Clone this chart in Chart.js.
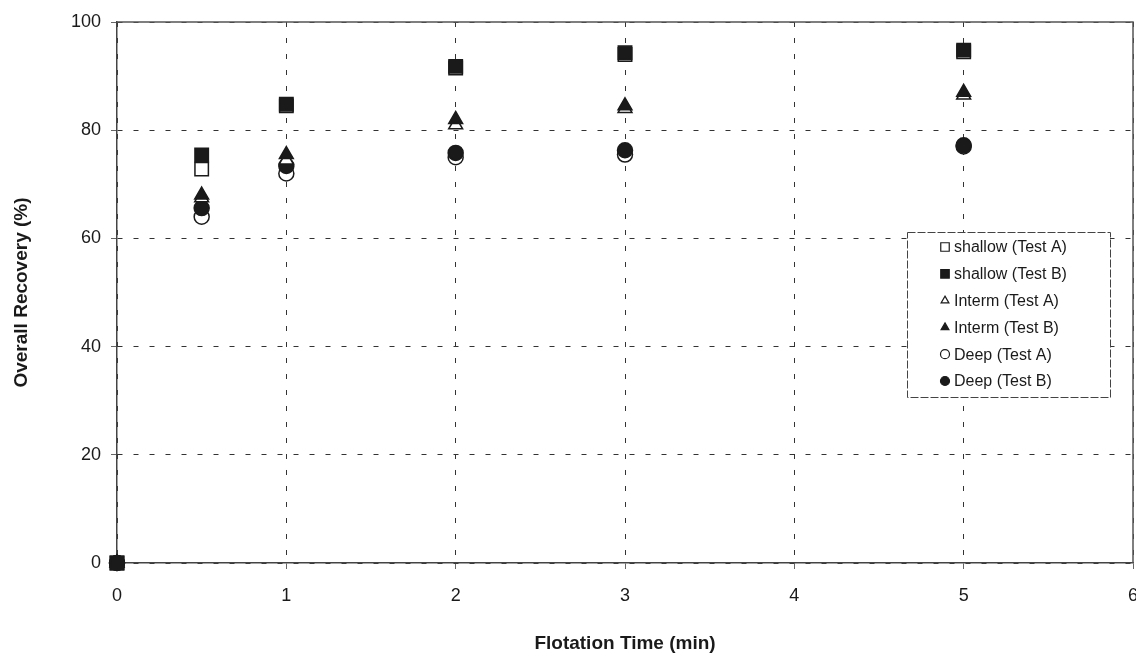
<!DOCTYPE html>
<html>
<head>
<meta charset="utf-8">
<script src="https://cdn.jsdelivr.net/npm/chart.js@4"></script>
<style>
  html, body { margin: 0; padding: 0; background: #fff; overflow: hidden; }
  #wrap { width: 1136px; height: 656px; overflow: hidden; }
</style>
</head>
<body>
<div id="wrap"><canvas id="myChart" width="1144" height="656"></canvas></div>
<script>
// flotation time (min)
const times = [0, 0.5, 1, 2, 3, 5];

// overall recovery (%)
const shallowA = [0, 72.8, 84.5, 91.5, 94, 94.5];
const shallowB = [0, 75.4, 84.8, 91.8, 94.3, 94.8];
const intermA = [0, 67.5, 74.5, 81, 84, 86.5];
const intermB = [0, 68, 75.5, 82, 84.5, 87];
const deepA = [0, 64, 72, 75, 75.5, 77];
const deepB = [0, 65.6, 73.4, 75.8, 76.3, 77.2];

const xTicks = [0, 1, 2, 3, 4, 5, 6];
const yTicks = [0, 20, 40, 60, 80, 100];

const FONT = "'Liberation Sans', Arial, sans-serif";

function pts(vals) {
  return times.map((t, i) => ({ x: t, y: vals[i] }));
}

function series(label, vals, style, filled, radius, order) {
  return {
    label: label,
    data: pts(vals),
    pointStyle: style,
    pointRadius: radius,
    pointHoverRadius: radius,
    pointBackgroundColor: filled ? '#1a1a1a' : '#ffffff',
    pointBorderColor: '#1a1a1a',
    pointBorderWidth: 1.5,
    showLine: false,
    clip: false,
    order: order
  };
}

const datasets = [
  series('shallow (Test A)', shallowA, 'rect', false, 9.5, 1),
  series('shallow (Test B)', shallowB, 'rect', true, 9.5, 0),
  series('Interm (Test A)', intermA, 'triangle', false, 8, 3),
  series('Interm (Test B)', intermB, 'triangle', true, 8, 2),
  series('Deep (Test A)', deepA, 'circle', false, 7.5, 5),
  series('Deep (Test B)', deepB, 'circle', true, 7.5, 4)
];

// solid frame on top and right of the plot area
const framePlugin = {
  id: 'frame',
  beforeDatasetsDraw(chart) {
    const { ctx, chartArea: a } = chart;
    ctx.save();
    ctx.strokeStyle = '#555';
    ctx.lineWidth = 1.5;
    ctx.beginPath();
    ctx.moveTo(a.left, a.top);
    ctx.lineTo(a.right, a.top);
    ctx.lineTo(a.right, a.bottom);
    ctx.stroke();
    ctx.restore();
  }
};

// boxed legend inside the plot, like the original
const boxLegend = {
  id: 'boxLegend',
  afterDraw(chart) {
    const { ctx, chartArea: a } = chart;
    const left = a.right - 226;
    const top = 232;
    const w = 203, h = 165;
    ctx.save();
    ctx.fillStyle = '#fff';
    ctx.fillRect(left, top, w, h);
    ctx.strokeStyle = '#444';
    ctx.lineWidth = 1;
    ctx.setLineDash([8, 2]);
    ctx.strokeRect(left + 0.5, top + 0.5, w, h);
    ctx.setLineDash([]);
    ctx.font = '16px ' + FONT;
    ctx.textBaseline = 'middle';
    chart.data.datasets.forEach((ds, i) => {
      const y = top + 15 + i * 26.8;
      ctx.fillStyle = ds.pointBackgroundColor;
      ctx.strokeStyle = ds.pointBorderColor;
      ctx.lineWidth = 1.2;
      Chart.helpers.drawPoint(ctx, { pointStyle: ds.pointStyle, radius: ds.pointStyle === 'rect' ? 6 : 4.5, borderWidth: 1.2 }, left + 38, y);
      ctx.fillStyle = '#1a1a1a';
      ctx.fillText(ds.label, left + 47, y + 1);
    });
    ctx.restore();
  }
};

const ctx = document.getElementById('myChart').getContext('2d');
const myChart = new Chart(ctx, {
  type: 'scatter',
  data: { datasets: datasets },
  options: {
    responsive: false,
    animation: false,
    layout: { padding: { top: 22, right: 3, left: 0, bottom: 0 } },
    plugins: {
      legend: { display: false },
      tooltip: { enabled: false }
    },
    scales: {
      x: {
        type: 'linear',
        min: 0,
        max: 6,
        afterBuildTicks: (s) => { s.ticks = xTicks.map(v => ({ value: v })); },
        afterFit: (s) => { s.height = 93; s.paddingRight = 0; s.paddingLeft = 0; },
        ticks: { color: '#1a1a1a', font: { family: FONT, size: 18 }, padding: 16 },
        grid: { color: '#333', tickLength: 6, tickColor: '#666' },
        border: { display: true, color: '#444', width: 1.5, dash: [5, 11] },
        title: {
          display: true,
          text: 'Flotation Time (min)',
          color: '#1a1a1a',
          font: { family: FONT, size: 19, weight: 'bold' },
          padding: { top: 0, bottom: 1 }
        }
      },
      y: {
        min: 0,
        max: 100,
        afterBuildTicks: (s) => { s.ticks = yTicks.map(v => ({ value: v })); },
        afterFit: (s) => { s.width = 117; s.paddingTop = 0; s.paddingBottom = 0; },
        ticks: { color: '#1a1a1a', font: { family: FONT, size: 18 }, padding: 10 },
        grid: { color: '#333', tickLength: 6, tickColor: '#666' },
        border: { display: true, color: '#444', width: 1.5, dash: [5, 11] },
        title: {
          display: true,
          text: 'Overall Recovery (%)',
          color: '#1a1a1a',
          font: { family: FONT, size: 19, weight: 'bold' },
          padding: { top: 10, bottom: 0 }
        }
      }
    }
  },
  plugins: [framePlugin, boxLegend]
});
</script>
</body>
</html>
